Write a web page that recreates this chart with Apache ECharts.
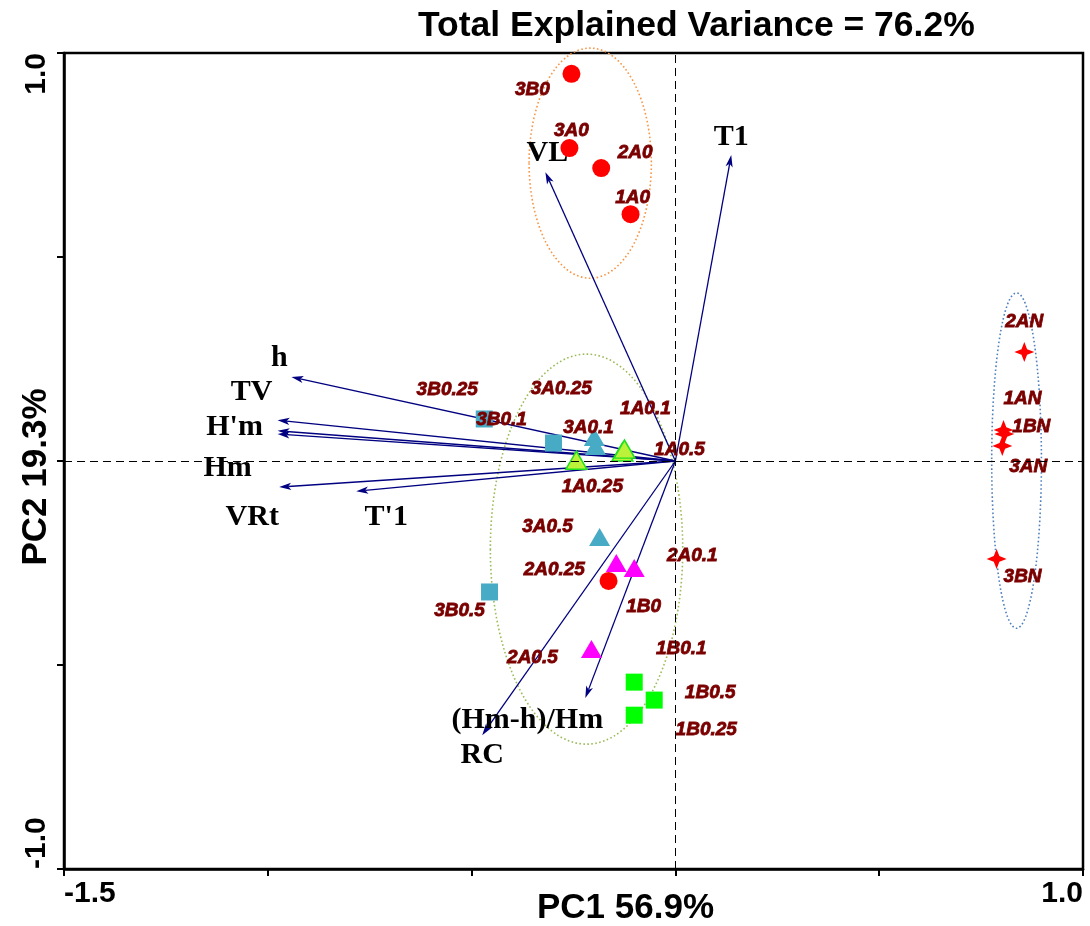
<!DOCTYPE html>
<html>
<head>
<meta charset="utf-8">
<title>PCA biplot</title>
<script src="https://cdn.jsdelivr.net/npm/echarts@6/dist/echarts.min.js"></script>
<style>
  html, body { margin: 0; padding: 0; background: #fff; }
  #chart { width: 1090px; height: 926px; }
</style>
</head>
<body>
<div id="chart"></div>
<script>
// ---- Sample scores (PC1, PC2) ----
const sampleNames = ['3B0', '3A0', '2A0', '1A0', '1B0',
  '3B0.25', '3B0.1', '3B0.5',
  '3A0.25', '3A0.1', '3A0.5',
  '1A0.1', '1A0.5', '1A0.25',
  '2A0.25', '2A0.1', '2A0.5',
  '1B0.1', '1B0.5', '1B0.25',
  '2AN', '1AN', '1BN', '3AN', '3BN'];
const samplePC1 = [-0.255, -0.260, -0.182, -0.110, -0.164,
  -0.469, -0.299, -0.456,
  -0.199, -0.196, -0.186,
  -0.130, -0.125, -0.243,
  -0.145, -0.101, -0.206,
  -0.101, -0.052, -0.101,
  0.856, 0.805, 0.807, 0.802, 0.788];
const samplePC2 = [0.949, 0.767, 0.718, 0.605, -0.294,
  0.103, 0.044, -0.321,
  0.059, 0.037, -0.186,
  0.022, 0.029, 0.002,
  -0.250, -0.262, -0.461,
  -0.542, -0.586, -0.623,
  0.267, 0.076, 0.066, 0.037, -0.240];
const sampleGroup = ['redCircle', 'redCircle', 'redCircle', 'redCircle', 'redCircle',
  'tealSquare', 'tealSquare', 'tealSquare',
  'tealTriangle', 'tealTriangle', 'tealTriangle',
  'limeTriangle', 'limeTriangle', 'limeTriangle',
  'magentaTriangle', 'magentaTriangle', 'magentaTriangle',
  'greenSquare', 'greenSquare', 'greenSquare',
  'redStar', 'redStar', 'redStar', 'redStar', 'redStar'];

// ---- Variable loadings (PC1, PC2) ----
const varNames = ['VL', 'T1', 'h', 'TV', "H'm", 'Hm', 'VRt', "T'1", 'RC', '(Hm-h)/Hm'];
const varPC1 = [-0.319, 0.137, -0.942, -0.976, -0.976, -0.976, -0.972, -0.783, -0.474, -0.221];
const varPC2 = [0.708, 0.750, 0.206, 0.100, 0.074, 0.066, -0.064, -0.074, -0.672, -0.581];

// ---- Confidence ellipses: centre and semi-axes in PC units ----
const ellipseCX = [-0.209, -0.218, 0.837];
const ellipseCY = [0.730, -0.216, 0.001];
const ellipseRX = [0.150, 0.236, 0.061];
const ellipseRY = [0.282, 0.478, 0.411];

// ---- Axis tick labels that are printed ----
const xTickLabels = ['-1.5', '1.0'];
const yTickLabels = ['-1.0', '1.0'];

// Label placement (pixel offsets from the mark)
const sampleLabelOffset = {
  '3B0': [-39, 16], '3A0': [2, -17], '2A0': [34, -15], '1A0': [2, -16], '1B0': [35, 26],
  '3B0.25': [-37, -29], '3B0.1': [-52, -23], '3B0.5': [-30, 19],
  '3A0.25': [-33, -48], '3A0.1': [-7, -18], '3A0.5': [-52, -10],
  '1A0.1': [23, -43], '1A0.5': [55, 1], '1A0.25': [16, 27],
  '2A0.25': [-62, 7], '2A0.1': [58, -12], '2A0.5': [-59, 9],
  '1B0.1': [47, -33], '1B0.5': [56, -7], '1B0.25': [72, 15],
  '2AN': [0, -30], '1AN': [19, -31], '1BN': [27, -7], '3AN': [26, 21], '3BN': [26, 18]
};
const varLabelOffset = {
  'VL': [2, -19], 'T1': [0, -18], 'h': [-12, -19], 'TV': [-26, -28], "H'm": [-43, -4],
  'Hm': [-50, 34], 'VRt': [-27, 30], "T'1": [30, 26], 'RC': [0, 20], '(Hm-h)/Hm': [-58, 22]
};

// four-pointed star marker
const STAR = 'path://M10,0 L12.8,7.2 L20,10 L12.8,12.8 L10,20 L7.2,12.8 L0,10 L7.2,7.2 Z';
const groupStyle = {
  redCircle:       { symbol: 'circle',   size: 18,       color: '#ff0000' },
  tealSquare:      { symbol: 'rect',     size: 17,       color: '#48abc6' },
  tealTriangle:    { symbol: 'triangle', size: [21, 18], color: '#48abc6' },
  limeTriangle:    { symbol: 'triangle', size: [21, 18], color: '#bdf23a', border: '#1ee01e' },
  magentaTriangle: { symbol: 'triangle', size: [21, 18], color: '#ff00ff' },
  greenSquare:     { symbol: 'rect',     size: 17,       color: '#00ff00' },
  redStar:         { symbol: STAR,       size: 20,       color: '#ff0000' }
};

const sampleLabelStyle = {
  show: true,
  position: 'inside',
  formatter: '{b}',
  color: '#7a0000',
  fontFamily: 'Liberation Sans',
  fontStyle: 'italic',
  fontWeight: 'bold',
  fontSize: 19,
  textBorderColor: '#7a0000',
  textBorderWidth: 0.8
};

const groupOrder = ['tealSquare', 'tealTriangle', 'limeTriangle', 'magentaTriangle', 'greenSquare', 'redCircle', 'redStar'];
const scatterSeries = groupOrder.map((g, gi) => {
  const st = groupStyle[g];
  const data = [];
  sampleNames.forEach((n, i) => {
    if (sampleGroup[i] !== g) return;
    data.push({ name: n, value: [samplePC1[i], samplePC2[i]], label: { offset: sampleLabelOffset[n] } });
  });
  const s = {
    type: 'scatter',
    name: g,
    symbol: st.symbol,
    symbolSize: st.size,
    z: 4,
    itemStyle: { color: st.color, opacity: 1, borderColor: st.border || st.color, borderWidth: st.border ? 1.5 : 0 },
    label: sampleLabelStyle,
    emphasis: { disabled: true },
    data: data
  };
  if (gi === 0) {
    s.markLine = {
      silent: true,
      symbol: 'none',
      label: { show: false },
      lineStyle: { color: '#000', type: [8, 5], width: 1 },
      data: [{ xAxis: 0 }, { yAxis: 0 }]
    };
  }
  return s;
});

const ellipseColors = ['#f79646', '#9bbb59', '#4f81bd'];
const ellipseSeries = {
  type: 'custom',
  z: 2,
  silent: true,
  data: ellipseCX.map((cx, i) => [cx, ellipseCY[i], ellipseRX[i], ellipseRY[i]]),
  renderItem: function (params, api) {
    const c = api.coord([api.value(0), api.value(1)]);
    const sz = api.size([api.value(2), api.value(3)]);
    const rx = sz[0], ry = sz[1];
    return {
      type: 'path',
      shape: {
        pathData: 'M0,1 A1,1 0 1 0 2,1 A1,1 0 1 0 0,1 Z',
        x: c[0] - rx, y: c[1] - ry, width: 2 * rx, height: 2 * ry,
        layout: 'cover'
      },
      style: {
        fill: 'none',
        stroke: ellipseColors[params.dataIndex],
        lineWidth: 1.6,
        lineDash: [1.6, 2.4]
      }
    };
  }
};

const arrowSeries = {
  type: 'custom',
  z: 3,
  silent: true,
  data: varNames.map((n, i) => ({ name: n, value: [varPC1[i], varPC2[i]] })),
  renderItem: function (params, api) {
    const o = api.coord([0, 0]);
    const t = api.coord([api.value(0), api.value(1)]);
    const dx = t[0] - o[0], dy = t[1] - o[1];
    const len = Math.hypot(dx, dy);
    const ux = dx / len, uy = dy / len;
    const nx = -uy, ny = ux;
    const headL = 12, headW = 3.6, notch = 9;
    const bx = t[0] - ux * headL, by = t[1] - uy * headL;
    const name = varNames[params.dataIndex];
    const off = varLabelOffset[name];
    return {
      type: 'group',
      children: [
        {
          type: 'line',
          shape: { x1: o[0], y1: o[1], x2: t[0] - ux * notch, y2: t[1] - uy * notch },
          style: { stroke: '#000080', lineWidth: 1.3 }
        },
        {
          type: 'polygon',
          shape: { points: [
            [t[0], t[1]],
            [bx + nx * headW, by + ny * headW],
            [t[0] - ux * notch, t[1] - uy * notch],
            [bx - nx * headW, by - ny * headW]
          ] },
          style: { fill: '#000080' }
        },
        {
          type: 'text',
          style: {
            text: name,
            x: t[0] + off[0],
            y: t[1] + off[1],
            align: 'center',
            verticalAlign: 'middle',
            font: 'bold 30px "Liberation Serif"',
            fill: '#000'
          }
        }
      ]
    };
  }
};

const tickFont = { fontFamily: 'Liberation Sans', fontWeight: 'bold', fontSize: 30, color: '#000' };

const option = {
  animation: false,
  backgroundColor: '#fff',
  title: {
    text: 'Total Explained Variance = 76.2%',
    left: 418,
    top: 8,
    padding: 0,
    textStyle: { fontFamily: 'Liberation Sans', fontWeight: 'bold', fontSize: 35.5, color: '#000' }
  },
  grid: {
    left: 64, right: 7, top: 53, bottom: 57,
    outerBoundsMode: 'none',
    containLabel: false,
    show: true, borderColor: '#000', borderWidth: 2.5, backgroundColor: 'transparent'
  },
  xAxis: {
    type: 'value',
    min: -1.5, max: 1.0, interval: 0.5,
    splitLine: { show: false },
    axisLine: { show: true, onZero: false, lineStyle: { color: '#000', width: 2.5 } },
    axisTick: { show: true, length: 7, lineStyle: { color: '#000', width: 2 } },
    axisLabel: Object.assign({
      margin: 10,
      alignMinLabel: 'left',
      alignMaxLabel: 'right',
      formatter: v => { const s = v.toFixed(1); return xTickLabels.includes(s) ? s : ''; }
    }, tickFont),
    name: 'PC1 56.9%',
    nameLocation: 'middle',
    nameMoveOverlap: false,
    nameGap: 22,
    nameTextStyle: { fontFamily: 'Liberation Sans', fontWeight: 'bold', fontSize: 35, color: '#000', padding: [0, 0, 0, 104] }
  },
  yAxis: {
    type: 'value',
    min: -1.0, max: 1.0, interval: 0.5,
    splitLine: { show: false },
    axisLine: { show: true, onZero: false, lineStyle: { color: '#000', width: 2.5 } },
    axisTick: { show: true, length: 7, lineStyle: { color: '#000', width: 2 } },
    axisLabel: Object.assign({
      rotate: 90,
      margin: 12,
      alignMinLabel: 'left',
      alignMaxLabel: 'right',
      formatter: v => { const s = v.toFixed(1); return yTickLabels.includes(s) ? s : ''; }
    }, tickFont),
    name: 'PC2 19.3%',
    nameLocation: 'middle',
    nameMoveOverlap: false,
    nameRotate: 90,
    nameGap: 10,
    nameTextStyle: { fontFamily: 'Liberation Sans', fontWeight: 'bold', fontSize: 35, color: '#000', padding: [0, 32, 0, 0] }
  },
  series: [ellipseSeries, arrowSeries].concat(scatterSeries)
};

const chart = echarts.init(document.getElementById('chart'), null, { renderer: 'canvas' });
chart.setOption(option);
</script>
</body>
</html>
